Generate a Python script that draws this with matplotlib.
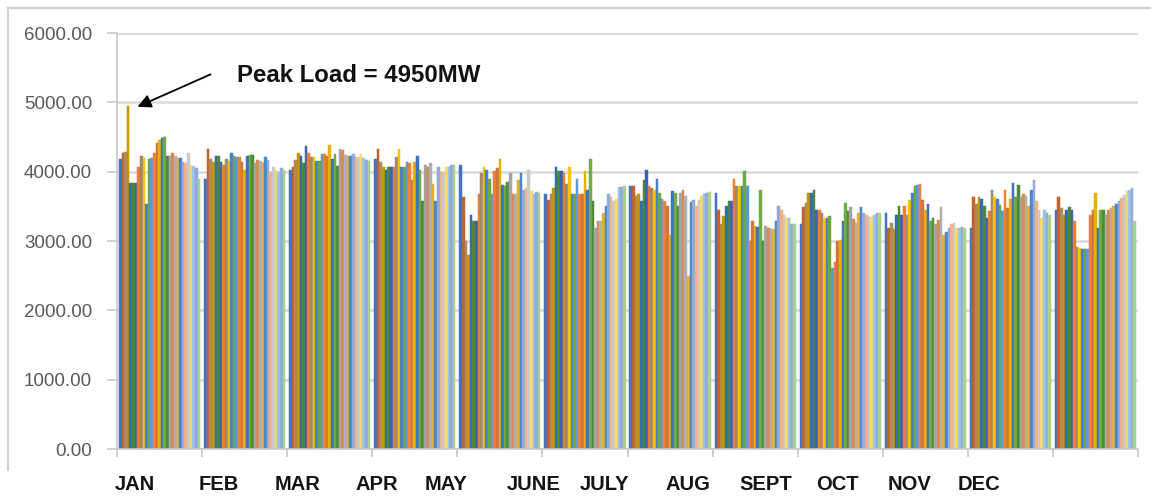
import numpy as np
import matplotlib.pyplot as plt
from matplotlib.lines import Line2D

# ========= DATA =========
MONTHS = ["JAN", "FEB", "MAR", "APR", "MAY", "JUNE", "JULY", "AUG", "SEPT", "OCT", "NOV", "DEC"]

# daily peak load (MW), one value per day slot (31 per month group)
JAN = [4180, 4270, 4290, 4950, 3830, 3830, 3840, 4070, 4230, 4200, 3530, 4180, 4190, 4270, 4420, 4460,
       4490, 4500, 4230, 4230, 4270, 4230, 4200, 4190, 4140, 4130, 4270, 4100, 4080, 4060, 3890]
FEB = [3890, 4330, 4180, 4140, 4220, 4230, 4140, 4100, 4180, 4150, 4270, 4220, 4210, 4210, 4140, 4030,
       4220, 4240, 4240, 4130, 4170, 4160, 4130, 4210, 4170, 4000, 4070, 4030, 4000, 4060, 4020]
MAR = [4020, 4070, 4170, 4270, 4220, 4130, 4370, 4270, 4210, 4210, 4150, 4150, 4250, 4250, 4220, 4380,
       4180, 4260, 4080, 4330, 4310, 4240, 4220, 4220, 4250, 4210, 4210, 4250, 4190, 4170, 4160]
APR = [4180, 4330, 4140, 4070, 4030, 4070, 4070, 4070, 4210, 4330, 4070, 4070, 4140, 4120, 3880, 4140,
       4220, 4020, 3570, 4100, 4070, 4130, 3820, 3570, 4070, 4000, 4000, 4070, 4070, 4100, 4090]
MAY = [4100, 3640, 3000, 2800, 3380, 3290, 3290, 3680, 3980, 4070, 4020, 3900, 3680, 4010, 4050, 4180,
       3810, 3790, 3850, 3980, 3680, 3680, 3880, 3980, 3730, 3760, 4030, 3720, 3680, 3700, 3690]
JUN = [3680, 3590, 3680, 3760, 4070, 4010, 4010, 3980, 3820, 4070, 3680, 3680, 3890, 3680, 3680, 4010,
       3740, 4180, 3570, 3190, 3290, 3290, 3400, 3500, 3680, 3640, 3570, 3600, 3780, 3780, 3800]
JUL = [3790, 3790, 3650, 3680, 3570, 3880, 4030, 3790, 3760, 3730, 3890, 3690, 3600, 3570, 3500, 3080,
       3720, 3690, 3500, 3690, 3730, 3650, 2500, 3560, 3590, 3500, 3590, 3650, 3680, 3690, 3700]
AUG = [3690, 3440, 3250, 3360, 3510, 3570, 3570, 3890, 3790, 3790, 3790, 4010, 3790, 3000, 3290, 3210,
       3200, 3730, 3000, 3210, 3190, 3170, 3180, 3290, 3500, 3450, 3380, 3330, 3330, 3240, 3250]
SEP = [3250, 3490, 3550, 3690, 3690, 3740, 3450, 3450, 3400, 3330, 3330, 3360, 2610, 2700, 3000, 3010,
       3290, 3550, 3430, 3490, 3320, 3260, 3400, 3490, 3400, 3380, 3350, 3350, 3380, 3410, 3400]
OCT = [3410, 3190, 3260, 3170, 3380, 3500, 3380, 3500, 3380, 3590, 3690, 3790, 3810, 3820, 3590, 3450,
       3540, 3290, 3330, 3250, 3300, 3490, 3080, 3130, 3190, 3240, 3260, 3190, 3190, 3200, 3190]
NOV = [3190, 3640, 3530, 3640, 3610, 3500, 3330, 3430, 3740, 3640, 3610, 3520, 3430, 3740, 3480, 3600,
       3830, 3640, 3810, 3640, 3680, 3650, 3500, 3740, 3880, 3580, 3450, 3330, 3440, 3400, 3380]
DEC = [3440, 3640, 3480, 3380, 3440, 3490, 3440, 3290, 2910, 2900, 2890, 2880, 2890, 3380, 3440, 3690,
       3190, 3450, 3450, 3380, 3450, 3480, 3510, 3540, 3580, 3620, 3670, 3720, 3740, 3760, 3290]

PEAK_TEXT = "Peak Load = 4950MW"
Y_TICKS = [0, 1000, 2000, 3000, 4000, 5000, 6000]

# excel-like series colours (day 1..31)
SERIES_COLORS = [
    "#4472C4", "#C0622B", "#B08A5A", "#C89400", "#2F6FAF", "#4E8A35",
    "#3A63B0", "#ED7D31", "#9A8A70", "#FFC000", "#4A80C8", "#6AA843",
    "#5B9BD5", "#F07F3A", "#D07440", "#E8B000", "#3C72C0", "#70AD47",
    "#4F8C3A", "#A5A5A5", "#D88A55", "#B0B0B0", "#E6B030", "#4C86CC",
    "#8FAADC", "#F4B183", "#C9C9C9", "#FFD966", "#9DC3E6", "#8FAADC",
    "#A9D18E",
]

# ========= LAYOUT =========
W, H = 1159, 497
FONT = "Liberation Sans"
LABEL_X = [115, 199, 275, 356, 425, 507, 580, 665, 739, 816, 888, 958]   # pixel, left edge of month text

loads = np.array([JAN, FEB, MAR, APR, MAY, JUN, JUL, AUG, SEP, OCT, NOV, DEC], dtype=float)
n_groups, n_series = loads.shape
bw = 1.0 / (n_series + 1.5)
xc = np.arange(n_groups)

fig = plt.figure(figsize=(W / 100, H / 100), dpi=100)
ax = fig.add_axes([117 / W, 1 - 449 / H, (1138 - 117) / W, (449 - 33) / H])

for j in range(n_series):
    ax.bar(xc + (j - (n_series - 1) / 2) * bw, loads[:, j], width=bw,
           color=SERIES_COLORS[j], edgecolor=SERIES_COLORS[j], linewidth=0.35, zorder=2)

ax.set_xlim(-0.5, n_groups - 0.5)
ax.set_ylim(0, 6000)
ax.set_yticks(Y_TICKS)
ax.set_yticklabels([f"{v:.2f}" for v in Y_TICKS], fontsize=13.5, color="#595959", family=FONT)
ax.yaxis.grid(True, color="#D9D9D9", lw=1.8, zorder=0)
ax.set_axisbelow(True)
ax.tick_params(axis="y", length=7, width=1.2, color="#C8C8C8", pad=11)

ax.set_xticks([])
ax.set_xticks(np.arange(n_groups + 1) - 0.5, minor=True)
ax.tick_params(axis="x", which="minor", length=6, width=1.2, color="#C8C8C8")

for s in ["top", "right"]:
    ax.spines[s].set_visible(False)
for s in ["left", "bottom"]:
    ax.spines[s].set_color("#C8C8C8")
    ax.spines[s].set_linewidth(1.2)

# peak annotation
pk_g, pk_d = np.unravel_index(np.argmax(loads), loads.shape)
pk_x = xc[pk_g] + (pk_d - (n_series - 1) / 2) * bw
ax.annotate("", xy=(pk_x + 0.08, loads[pk_g, pk_d] - 30), xytext=(0.63, 5420),
            arrowprops=dict(arrowstyle="-|>", color="black", lw=1.3, mutation_scale=20),
            annotation_clip=False)
ax.text(0.91, 5385, PEAK_TEXT, fontsize=17.3, fontweight="bold", family=FONT,
        color="#111111", ha="left", va="center")

# month captions (placed as a separate text row, like the original)
for m, px in zip(MONTHS, LABEL_X):
    fig.text(px / W, 1 - 484 / H, m, ha="left", va="center", fontsize=14.5,
             fontweight="bold", family=FONT, color="#141414")

# chart border
fig.add_artist(Line2D([8 / W, 8 / W], [1 - 8 / H, 1 - 470 / H], color="#D0D0D0", lw=1.5))
fig.add_artist(Line2D([8 / W, 1150 / W], [1 - 8 / H, 1 - 8 / H], color="#D0D0D0", lw=1.5))

fig.savefig("out.png", dpi=100, facecolor="white")
